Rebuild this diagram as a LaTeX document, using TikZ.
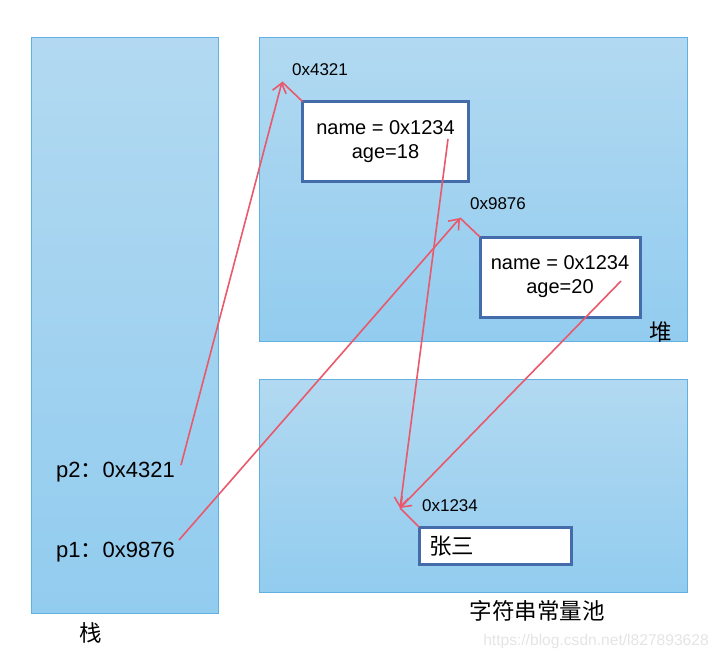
\documentclass[tikz,border=0pt]{standalone}
\usepackage{fontspec}
\setmainfont{Liberation Sans}
\newfontfamily\cjk{Noto Sans CJK SC}
\usetikzlibrary{arrows.meta}
\definecolor{regtop}{RGB}{178,217,241}
\definecolor{regbot}{RGB}{146,204,239}
\definecolor{regedge}{RGB}{96,176,225}
\definecolor{boxedge}{RGB}{68,108,170}
\definecolor{ptrred}{RGB}{234,88,108}
\definecolor{wmark}{RGB}{228,228,228}
\tikzset{
  region/.style={draw=regedge, line width=0.8pt, top color=regtop, bottom color=regbot,
    anchor=north west, inner sep=0pt, outer sep=0pt},
  objbox/.style={draw=boxedge, line width=3pt, fill=white, inner sep=0pt, outer sep=0pt,
    align=center, font=\fontsize{20}{24}\selectfont},
  addr/.style={font=\fontsize{17}{20}\selectfont, inner sep=0pt},
  cjklabel/.style={font=\fontsize{22.5}{26}\selectfont\cjk, inner sep=0pt},
  varlabel/.style={font=\fontsize{22}{26}\selectfont, inner sep=0pt, anchor=west},
  ptr/.style={draw=ptrred, line width=1.6pt, -{Straight Barb[length=9pt,width=14pt,line width=1.6pt]}},
  link/.style={draw=ptrred, line width=1.6pt},
}
\begin{document}
\begin{tikzpicture}[x=1pt,y=-1pt]
\useasboundingbox (0,0) rectangle (720,659);
% regions
\node[region, minimum width=187pt, minimum height=576pt] (stack) at (31,37) {};
\node[region, minimum width=428pt, minimum height=304pt] (heap) at (259,37) {};
\node[region, minimum width=428pt, minimum height=213pt] (pool) at (259,379) {};
% region labels
\node[cjklabel] (stacklbl) at (91,633) {栈};
\node[cjklabel] (heaplbl) at (661,332) {堆};
\node[cjklabel] (poollbl) at (537,611) {字符串常量池};
% objects
\node[objbox, minimum width=166pt, minimum height=80pt] (box1) at (385.5,141.5) {name = 0x1234\\age=18};
\node[objbox, minimum width=160pt, minimum height=80pt] (box2) at (560,277) {name = 0x1234\\age=20};
\node[objbox, minimum width=152pt, minimum height=37pt] (box3) at (495,545.5) {};
\node[cjklabel, anchor=west] (zs) at (429,546) {张三};
% address labels
\node[addr] (a1) at (320,70) {0x4321};
\node[addr] (a2) at (498,204) {0x9876};
\node[addr] (a3) at (450,506) {0x1234};
% variables
\node[varlabel] (p2) at (56,472) {p2{\cjk ：}0x4321};
\node[varlabel] (p1) at (56,552) {p1{\cjk ：}0x9876};
% watermark
\node[font=\fontsize{15.6}{18}\selectfont, text=wmark, inner sep=0pt] (wm) at (596,641) {https://blog.csdn.net/l827893628};
% pointer coordinates
\coordinate (p2s) at (181,465);
\coordinate (p1s) at (179,540);
\coordinate (b1s) at (448,139);
\coordinate (b2s) at (621,281);
\coordinate (t1) at (282,82);
\coordinate (t2) at (460,218);
\coordinate (t3) at (400,508);
% pointers
\draw[ptr] (p2s) -- (t1);
\draw[link] (t1) -- (box1.north west);
\draw[ptr] (p1s) -- (t2);
\draw[link] (t2) -- (box2.north west);
\draw[ptr] (b1s) -- (t3);
\draw[ptr] (b2s) -- (t3);
\draw[link] (t3) -- (box3.north west);
\end{tikzpicture}
\end{document}
